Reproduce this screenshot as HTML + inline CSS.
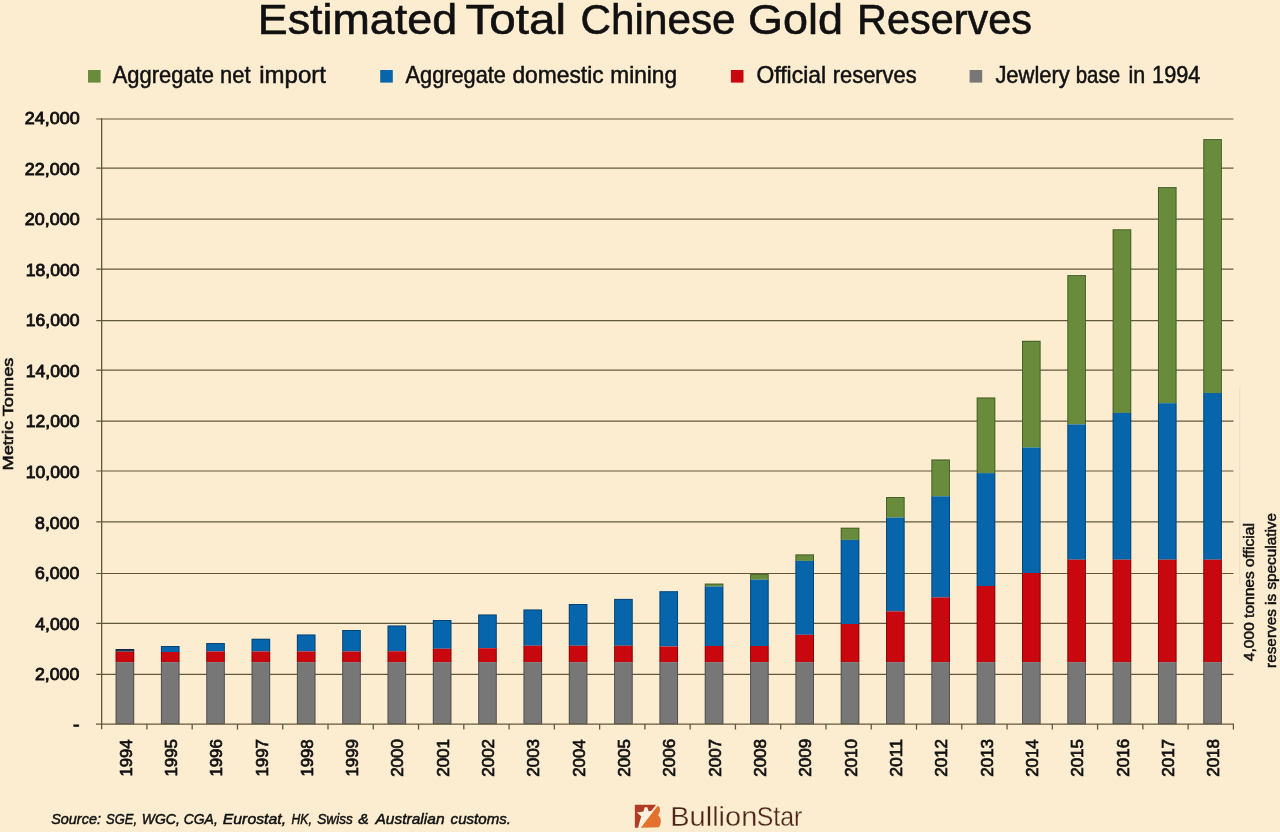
<!DOCTYPE html>
<html lang="en"><head><meta charset="utf-8"><title>Estimated Total Chinese Gold Reserves</title>
<style>
html,body{margin:0;padding:0;background:#FCEDD1;}
body{width:1280px;height:832px;overflow:hidden;font-family:"Liberation Sans",sans-serif;}
svg{display:block;}
text{font-family:"Liberation Sans",sans-serif;fill:#111;}
.t{stroke:#111;stroke-width:0.35px;}
</style></head><body>
<svg width="1280" height="832" viewBox="0 0 1280 832">
<rect x="0" y="0" width="1280" height="832" fill="#FCEDD1"/>
<text y="34.0" font-size="42.8" style="stroke:#111;stroke-width:0.6px"><tspan x="257.76" textLength="199.35" lengthAdjust="spacingAndGlyphs">Estimated</tspan> <tspan x="465.49" textLength="100.59" lengthAdjust="spacingAndGlyphs">Total</tspan> <tspan x="580.52" textLength="155.09" lengthAdjust="spacingAndGlyphs">Chinese</tspan> <tspan x="748.10" textLength="94.93" lengthAdjust="spacingAndGlyphs">Gold</tspan> <tspan x="857.10" textLength="174.91" lengthAdjust="spacingAndGlyphs">Reserves</tspan></text>
<rect x="88.0" y="70" width="12.6" height="12.6" fill="#698C3C"/>
<text y="83.0" font-size="23.4" style="stroke:#111;stroke-width:0.5px"><tspan x="112.75" textLength="101.14" lengthAdjust="spacingAndGlyphs">Aggregate</tspan> <tspan x="220.06" textLength="30.50" lengthAdjust="spacingAndGlyphs">net</tspan> <tspan x="259.27" textLength="66.73" lengthAdjust="spacingAndGlyphs">import</tspan></text>
<rect x="380.2" y="70" width="12.6" height="12.6" fill="#0765AB"/>
<text y="83.0" font-size="23.4" style="stroke:#111;stroke-width:0.5px"><tspan x="405.50" textLength="100.49" lengthAdjust="spacingAndGlyphs">Aggregate</tspan> <tspan x="512.42" textLength="91.27" lengthAdjust="spacingAndGlyphs">domestic</tspan> <tspan x="610.33" textLength="66.75" lengthAdjust="spacingAndGlyphs">mining</tspan></text>
<rect x="730.9" y="70" width="12.6" height="12.6" fill="#C9070F"/>
<text y="83.0" font-size="23.4" style="stroke:#111;stroke-width:0.5px"><tspan x="756.52" textLength="69.53" lengthAdjust="spacingAndGlyphs">Official</tspan> <tspan x="832.82" textLength="83.84" lengthAdjust="spacingAndGlyphs">reserves</tspan></text>
<rect x="969.6" y="70" width="12.6" height="12.6" fill="#777777"/>
<text y="83.0" font-size="23.4" style="stroke:#111;stroke-width:0.5px"><tspan x="995.40" textLength="74.38" lengthAdjust="spacingAndGlyphs">Jewlery</tspan> <tspan x="1075.73" textLength="44.31" lengthAdjust="spacingAndGlyphs">base</tspan> <tspan x="1128.38" textLength="16.74" lengthAdjust="spacingAndGlyphs">in</tspan> <tspan x="1152.07" textLength="48.27" lengthAdjust="spacingAndGlyphs">1994</tspan></text>
<line x1="96.3" y1="674.40" x2="1233.5" y2="674.40" stroke="#62583C" stroke-width="1.2"/>
<line x1="96.3" y1="623.30" x2="1233.5" y2="623.30" stroke="#62583C" stroke-width="1.2"/>
<line x1="96.3" y1="573.50" x2="1233.5" y2="573.50" stroke="#62583C" stroke-width="1.2"/>
<line x1="96.3" y1="521.90" x2="1233.5" y2="521.90" stroke="#62583C" stroke-width="1.2"/>
<line x1="96.3" y1="471.00" x2="1233.5" y2="471.00" stroke="#62583C" stroke-width="1.2"/>
<line x1="96.3" y1="421.20" x2="1233.5" y2="421.20" stroke="#62583C" stroke-width="1.2"/>
<line x1="96.3" y1="370.20" x2="1233.5" y2="370.20" stroke="#62583C" stroke-width="1.2"/>
<line x1="96.3" y1="320.60" x2="1233.5" y2="320.60" stroke="#62583C" stroke-width="1.2"/>
<line x1="96.3" y1="269.10" x2="1233.5" y2="269.10" stroke="#62583C" stroke-width="1.2"/>
<line x1="96.3" y1="219.20" x2="1233.5" y2="219.20" stroke="#62583C" stroke-width="1.2"/>
<line x1="96.3" y1="168.10" x2="1233.5" y2="168.10" stroke="#62583C" stroke-width="1.2"/>
<line x1="96.3" y1="119.00" x2="1233.5" y2="119.00" stroke="#62583C" stroke-width="1.2"/>
<text x="34.93" y="680.05" font-size="17" textLength="44.37" lengthAdjust="spacingAndGlyphs" style="stroke:#111;stroke-width:0.85px">2,000</text>
<text x="35.30" y="630.25" font-size="17" textLength="44.13" lengthAdjust="spacingAndGlyphs" style="stroke:#111;stroke-width:0.85px">4,000</text>
<text x="34.93" y="578.65" font-size="17" textLength="44.36" lengthAdjust="spacingAndGlyphs" style="stroke:#111;stroke-width:0.85px">6,000</text>
<text x="35.10" y="528.85" font-size="17" textLength="44.28" lengthAdjust="spacingAndGlyphs" style="stroke:#111;stroke-width:0.85px">8,000</text>
<text x="25.80" y="477.95" font-size="17" textLength="53.65" lengthAdjust="spacingAndGlyphs" style="stroke:#111;stroke-width:0.85px">10,000</text>
<text x="25.80" y="427.05" font-size="17" textLength="53.65" lengthAdjust="spacingAndGlyphs" style="stroke:#111;stroke-width:0.85px">12,000</text>
<text x="25.80" y="376.65" font-size="17" textLength="53.65" lengthAdjust="spacingAndGlyphs" style="stroke:#111;stroke-width:0.85px">14,000</text>
<text x="25.80" y="325.95" font-size="17" textLength="53.65" lengthAdjust="spacingAndGlyphs" style="stroke:#111;stroke-width:0.85px">16,000</text>
<text x="25.80" y="276.25" font-size="17" textLength="53.65" lengthAdjust="spacingAndGlyphs" style="stroke:#111;stroke-width:0.85px">18,000</text>
<text x="24.83" y="225.35" font-size="17" textLength="54.79" lengthAdjust="spacingAndGlyphs" style="stroke:#111;stroke-width:0.85px">20,000</text>
<text x="24.83" y="175.25" font-size="17" textLength="54.79" lengthAdjust="spacingAndGlyphs" style="stroke:#111;stroke-width:0.85px">22,000</text>
<text x="24.83" y="123.65" font-size="17" textLength="54.79" lengthAdjust="spacingAndGlyphs" style="stroke:#111;stroke-width:0.85px">24,000</text>
<text x="73.0" y="730.2" font-size="17" textLength="6.5" lengthAdjust="spacingAndGlyphs" style="stroke:#111;stroke-width:0.85px">-</text>
<text transform="translate(13.4,470.51) rotate(-90)" font-size="15.5" textLength="112.92" lengthAdjust="spacingAndGlyphs" style="stroke:#111;stroke-width:0.6px">Metric Tonnes</text>
<g>
<rect x="115.60" y="649.00" width="18.60" height="2.70" fill="#1B3A5E"/>
<rect x="115.60" y="651.70" width="18.60" height="10.40" fill="#C9070F"/>
<rect x="115.60" y="662.10" width="18.60" height="61.90" fill="#777777"/>
<rect x="116.10" y="649.50" width="17.60" height="74.50" fill="none" stroke="#000000" stroke-opacity="0.32" stroke-width="1"/>
</g>
<g>
<rect x="160.92" y="646.00" width="18.60" height="6.00" fill="#0765AB"/>
<rect x="160.92" y="652.00" width="18.60" height="10.10" fill="#C9070F"/>
<rect x="160.92" y="662.10" width="18.60" height="61.90" fill="#777777"/>
<rect x="161.42" y="646.50" width="17.60" height="77.50" fill="none" stroke="#000000" stroke-opacity="0.32" stroke-width="1"/>
</g>
<g>
<rect x="206.24" y="643.00" width="18.60" height="8.50" fill="#0765AB"/>
<rect x="206.24" y="651.50" width="18.60" height="10.60" fill="#C9070F"/>
<rect x="206.24" y="662.10" width="18.60" height="61.90" fill="#777777"/>
<rect x="206.74" y="643.50" width="17.60" height="80.50" fill="none" stroke="#000000" stroke-opacity="0.32" stroke-width="1"/>
</g>
<g>
<rect x="251.56" y="638.75" width="18.60" height="12.75" fill="#0765AB"/>
<rect x="251.56" y="651.50" width="18.60" height="10.60" fill="#C9070F"/>
<rect x="251.56" y="662.10" width="18.60" height="61.90" fill="#777777"/>
<rect x="252.06" y="639.25" width="17.60" height="84.75" fill="none" stroke="#000000" stroke-opacity="0.32" stroke-width="1"/>
</g>
<g>
<rect x="296.88" y="634.50" width="18.60" height="17.00" fill="#0765AB"/>
<rect x="296.88" y="651.50" width="18.60" height="10.60" fill="#C9070F"/>
<rect x="296.88" y="662.10" width="18.60" height="61.90" fill="#777777"/>
<rect x="297.38" y="635.00" width="17.60" height="89.00" fill="none" stroke="#000000" stroke-opacity="0.32" stroke-width="1"/>
</g>
<g>
<rect x="342.20" y="630.00" width="18.60" height="21.50" fill="#0765AB"/>
<rect x="342.20" y="651.50" width="18.60" height="10.60" fill="#C9070F"/>
<rect x="342.20" y="662.10" width="18.60" height="61.90" fill="#777777"/>
<rect x="342.70" y="630.50" width="17.60" height="93.50" fill="none" stroke="#000000" stroke-opacity="0.32" stroke-width="1"/>
</g>
<g>
<rect x="387.52" y="625.50" width="18.60" height="25.75" fill="#0765AB"/>
<rect x="387.52" y="651.25" width="18.60" height="10.85" fill="#C9070F"/>
<rect x="387.52" y="662.10" width="18.60" height="61.90" fill="#777777"/>
<rect x="388.02" y="626.00" width="17.60" height="98.00" fill="none" stroke="#000000" stroke-opacity="0.32" stroke-width="1"/>
</g>
<g>
<rect x="432.84" y="620.00" width="18.60" height="28.75" fill="#0765AB"/>
<rect x="432.84" y="648.75" width="18.60" height="13.35" fill="#C9070F"/>
<rect x="432.84" y="662.10" width="18.60" height="61.90" fill="#777777"/>
<rect x="433.34" y="620.50" width="17.60" height="103.50" fill="none" stroke="#000000" stroke-opacity="0.32" stroke-width="1"/>
</g>
<g>
<rect x="478.16" y="614.50" width="18.60" height="33.75" fill="#0765AB"/>
<rect x="478.16" y="648.25" width="18.60" height="13.85" fill="#C9070F"/>
<rect x="478.16" y="662.10" width="18.60" height="61.90" fill="#777777"/>
<rect x="478.66" y="615.00" width="17.60" height="109.00" fill="none" stroke="#000000" stroke-opacity="0.32" stroke-width="1"/>
</g>
<g>
<rect x="523.48" y="609.50" width="18.60" height="36.25" fill="#0765AB"/>
<rect x="523.48" y="645.75" width="18.60" height="16.35" fill="#C9070F"/>
<rect x="523.48" y="662.10" width="18.60" height="61.90" fill="#777777"/>
<rect x="523.98" y="610.00" width="17.60" height="114.00" fill="none" stroke="#000000" stroke-opacity="0.32" stroke-width="1"/>
</g>
<g>
<rect x="568.80" y="604.00" width="18.60" height="41.75" fill="#0765AB"/>
<rect x="568.80" y="645.75" width="18.60" height="16.35" fill="#C9070F"/>
<rect x="568.80" y="662.10" width="18.60" height="61.90" fill="#777777"/>
<rect x="569.30" y="604.50" width="17.60" height="119.50" fill="none" stroke="#000000" stroke-opacity="0.32" stroke-width="1"/>
</g>
<g>
<rect x="614.12" y="598.90" width="18.60" height="46.85" fill="#0765AB"/>
<rect x="614.12" y="645.75" width="18.60" height="16.35" fill="#C9070F"/>
<rect x="614.12" y="662.10" width="18.60" height="61.90" fill="#777777"/>
<rect x="614.62" y="599.40" width="17.60" height="124.60" fill="none" stroke="#000000" stroke-opacity="0.32" stroke-width="1"/>
</g>
<g>
<rect x="659.44" y="591.20" width="18.60" height="55.30" fill="#0765AB"/>
<rect x="659.44" y="646.50" width="18.60" height="15.60" fill="#C9070F"/>
<rect x="659.44" y="662.10" width="18.60" height="61.90" fill="#777777"/>
<rect x="659.94" y="591.70" width="17.60" height="132.30" fill="none" stroke="#000000" stroke-opacity="0.32" stroke-width="1"/>
</g>
<g>
<rect x="704.76" y="583.60" width="18.60" height="2.90" fill="#698C3C"/>
<rect x="704.76" y="586.50" width="18.60" height="59.50" fill="#0765AB"/>
<rect x="704.76" y="646.00" width="18.60" height="16.10" fill="#C9070F"/>
<rect x="704.76" y="662.10" width="18.60" height="61.90" fill="#777777"/>
<rect x="705.26" y="584.10" width="17.60" height="139.90" fill="none" stroke="#000000" stroke-opacity="0.32" stroke-width="1"/>
</g>
<g>
<rect x="750.08" y="573.80" width="18.60" height="5.80" fill="#698C3C"/>
<rect x="750.08" y="579.60" width="18.60" height="66.40" fill="#0765AB"/>
<rect x="750.08" y="646.00" width="18.60" height="16.10" fill="#C9070F"/>
<rect x="750.08" y="662.10" width="18.60" height="61.90" fill="#777777"/>
<rect x="750.58" y="574.30" width="17.60" height="149.70" fill="none" stroke="#000000" stroke-opacity="0.32" stroke-width="1"/>
</g>
<g>
<rect x="795.40" y="554.40" width="18.60" height="6.50" fill="#698C3C"/>
<rect x="795.40" y="560.90" width="18.60" height="73.90" fill="#0765AB"/>
<rect x="795.40" y="634.80" width="18.60" height="27.30" fill="#C9070F"/>
<rect x="795.40" y="662.10" width="18.60" height="61.90" fill="#777777"/>
<rect x="795.90" y="554.90" width="17.60" height="169.10" fill="none" stroke="#000000" stroke-opacity="0.32" stroke-width="1"/>
</g>
<g>
<rect x="840.72" y="527.70" width="18.60" height="12.20" fill="#698C3C"/>
<rect x="840.72" y="539.90" width="18.60" height="84.10" fill="#0765AB"/>
<rect x="840.72" y="624.00" width="18.60" height="38.10" fill="#C9070F"/>
<rect x="840.72" y="662.10" width="18.60" height="61.90" fill="#777777"/>
<rect x="841.22" y="528.20" width="17.60" height="195.80" fill="none" stroke="#000000" stroke-opacity="0.32" stroke-width="1"/>
</g>
<g>
<rect x="886.04" y="497.00" width="18.60" height="20.60" fill="#698C3C"/>
<rect x="886.04" y="517.60" width="18.60" height="93.80" fill="#0765AB"/>
<rect x="886.04" y="611.40" width="18.60" height="50.70" fill="#C9070F"/>
<rect x="886.04" y="662.10" width="18.60" height="61.90" fill="#777777"/>
<rect x="886.54" y="497.50" width="17.60" height="226.50" fill="none" stroke="#000000" stroke-opacity="0.32" stroke-width="1"/>
</g>
<g>
<rect x="931.36" y="459.50" width="18.60" height="36.80" fill="#698C3C"/>
<rect x="931.36" y="496.30" width="18.60" height="101.10" fill="#0765AB"/>
<rect x="931.36" y="597.40" width="18.60" height="64.70" fill="#C9070F"/>
<rect x="931.36" y="662.10" width="18.60" height="61.90" fill="#777777"/>
<rect x="931.86" y="460.00" width="17.60" height="264.00" fill="none" stroke="#000000" stroke-opacity="0.32" stroke-width="1"/>
</g>
<g>
<rect x="976.68" y="397.50" width="18.60" height="75.60" fill="#698C3C"/>
<rect x="976.68" y="473.10" width="18.60" height="112.90" fill="#0765AB"/>
<rect x="976.68" y="586.00" width="18.60" height="76.10" fill="#C9070F"/>
<rect x="976.68" y="662.10" width="18.60" height="61.90" fill="#777777"/>
<rect x="977.18" y="398.00" width="17.60" height="326.00" fill="none" stroke="#000000" stroke-opacity="0.32" stroke-width="1"/>
</g>
<g>
<rect x="1022.00" y="340.80" width="18.60" height="106.70" fill="#698C3C"/>
<rect x="1022.00" y="447.50" width="18.60" height="125.50" fill="#0765AB"/>
<rect x="1022.00" y="573.00" width="18.60" height="89.10" fill="#C9070F"/>
<rect x="1022.00" y="662.10" width="18.60" height="61.90" fill="#777777"/>
<rect x="1022.50" y="341.30" width="17.60" height="382.70" fill="none" stroke="#000000" stroke-opacity="0.32" stroke-width="1"/>
</g>
<g>
<rect x="1067.32" y="275.10" width="18.60" height="149.30" fill="#698C3C"/>
<rect x="1067.32" y="424.40" width="18.60" height="135.30" fill="#0765AB"/>
<rect x="1067.32" y="559.70" width="18.60" height="102.40" fill="#C9070F"/>
<rect x="1067.32" y="662.10" width="18.60" height="61.90" fill="#777777"/>
<rect x="1067.82" y="275.60" width="17.60" height="448.40" fill="none" stroke="#000000" stroke-opacity="0.32" stroke-width="1"/>
</g>
<g>
<rect x="1112.64" y="229.30" width="18.60" height="183.70" fill="#698C3C"/>
<rect x="1112.64" y="413.00" width="18.60" height="146.70" fill="#0765AB"/>
<rect x="1112.64" y="559.70" width="18.60" height="102.40" fill="#C9070F"/>
<rect x="1112.64" y="662.10" width="18.60" height="61.90" fill="#777777"/>
<rect x="1113.14" y="229.80" width="17.60" height="494.20" fill="none" stroke="#000000" stroke-opacity="0.32" stroke-width="1"/>
</g>
<g>
<rect x="1157.96" y="187.10" width="18.60" height="216.10" fill="#698C3C"/>
<rect x="1157.96" y="403.20" width="18.60" height="156.50" fill="#0765AB"/>
<rect x="1157.96" y="559.70" width="18.60" height="102.40" fill="#C9070F"/>
<rect x="1157.96" y="662.10" width="18.60" height="61.90" fill="#777777"/>
<rect x="1158.46" y="187.60" width="17.60" height="536.40" fill="none" stroke="#000000" stroke-opacity="0.32" stroke-width="1"/>
</g>
<g>
<rect x="1203.28" y="139.10" width="18.60" height="253.90" fill="#698C3C"/>
<rect x="1203.28" y="393.00" width="18.60" height="166.70" fill="#0765AB"/>
<rect x="1203.28" y="559.70" width="18.60" height="102.40" fill="#C9070F"/>
<rect x="1203.28" y="662.10" width="18.60" height="61.90" fill="#777777"/>
<rect x="1203.78" y="139.60" width="17.60" height="584.40" fill="none" stroke="#000000" stroke-opacity="0.32" stroke-width="1"/>
</g>
<line x1="101.65" y1="118.3" x2="101.65" y2="729.3" stroke="#62583C" stroke-width="1.3"/>
<line x1="96" y1="724.10" x2="1233.8" y2="724.10" stroke="#62583C" stroke-width="1.45"/>
<line x1="146.92" y1="724.00" x2="146.92" y2="729.6" stroke="#62583C" stroke-width="1.3"/>
<line x1="192.19" y1="724.00" x2="192.19" y2="729.6" stroke="#62583C" stroke-width="1.3"/>
<line x1="237.46" y1="724.00" x2="237.46" y2="729.6" stroke="#62583C" stroke-width="1.3"/>
<line x1="282.73" y1="724.00" x2="282.73" y2="729.6" stroke="#62583C" stroke-width="1.3"/>
<line x1="328.00" y1="724.00" x2="328.00" y2="729.6" stroke="#62583C" stroke-width="1.3"/>
<line x1="373.27" y1="724.00" x2="373.27" y2="729.6" stroke="#62583C" stroke-width="1.3"/>
<line x1="418.54" y1="724.00" x2="418.54" y2="729.6" stroke="#62583C" stroke-width="1.3"/>
<line x1="463.81" y1="724.00" x2="463.81" y2="729.6" stroke="#62583C" stroke-width="1.3"/>
<line x1="509.08" y1="724.00" x2="509.08" y2="729.6" stroke="#62583C" stroke-width="1.3"/>
<line x1="554.35" y1="724.00" x2="554.35" y2="729.6" stroke="#62583C" stroke-width="1.3"/>
<line x1="599.62" y1="724.00" x2="599.62" y2="729.6" stroke="#62583C" stroke-width="1.3"/>
<line x1="644.89" y1="724.00" x2="644.89" y2="729.6" stroke="#62583C" stroke-width="1.3"/>
<line x1="690.16" y1="724.00" x2="690.16" y2="729.6" stroke="#62583C" stroke-width="1.3"/>
<line x1="735.43" y1="724.00" x2="735.43" y2="729.6" stroke="#62583C" stroke-width="1.3"/>
<line x1="780.70" y1="724.00" x2="780.70" y2="729.6" stroke="#62583C" stroke-width="1.3"/>
<line x1="825.97" y1="724.00" x2="825.97" y2="729.6" stroke="#62583C" stroke-width="1.3"/>
<line x1="871.24" y1="724.00" x2="871.24" y2="729.6" stroke="#62583C" stroke-width="1.3"/>
<line x1="916.51" y1="724.00" x2="916.51" y2="729.6" stroke="#62583C" stroke-width="1.3"/>
<line x1="961.78" y1="724.00" x2="961.78" y2="729.6" stroke="#62583C" stroke-width="1.3"/>
<line x1="1007.05" y1="724.00" x2="1007.05" y2="729.6" stroke="#62583C" stroke-width="1.3"/>
<line x1="1052.32" y1="724.00" x2="1052.32" y2="729.6" stroke="#62583C" stroke-width="1.3"/>
<line x1="1097.59" y1="724.00" x2="1097.59" y2="729.6" stroke="#62583C" stroke-width="1.3"/>
<line x1="1142.86" y1="724.00" x2="1142.86" y2="729.6" stroke="#62583C" stroke-width="1.3"/>
<line x1="1188.13" y1="724.00" x2="1188.13" y2="729.6" stroke="#62583C" stroke-width="1.3"/>
<line x1="1233.40" y1="724.00" x2="1233.40" y2="729.6" stroke="#62583C" stroke-width="1.3"/>
<text transform="translate(131.55,776.60) rotate(-90)" font-size="16.5" textLength="37.09" lengthAdjust="spacingAndGlyphs" style="stroke:#111;stroke-width:0.7px">1994</text>
<text transform="translate(176.87,776.60) rotate(-90)" font-size="16.5" textLength="37.51" lengthAdjust="spacingAndGlyphs" style="stroke:#111;stroke-width:0.7px">1995</text>
<text transform="translate(222.19,776.60) rotate(-90)" font-size="16.5" textLength="37.35" lengthAdjust="spacingAndGlyphs" style="stroke:#111;stroke-width:0.7px">1996</text>
<text transform="translate(267.51,776.60) rotate(-90)" font-size="16.5" textLength="37.54" lengthAdjust="spacingAndGlyphs" style="stroke:#111;stroke-width:0.7px">1997</text>
<text transform="translate(312.83,776.60) rotate(-90)" font-size="16.5" textLength="37.30" lengthAdjust="spacingAndGlyphs" style="stroke:#111;stroke-width:0.7px">1998</text>
<text transform="translate(358.15,776.60) rotate(-90)" font-size="16.5" textLength="37.57" lengthAdjust="spacingAndGlyphs" style="stroke:#111;stroke-width:0.7px">1999</text>
<text transform="translate(403.47,776.82) rotate(-90)" font-size="16.5" textLength="37.79" lengthAdjust="spacingAndGlyphs" style="stroke:#111;stroke-width:0.7px">2000</text>
<text transform="translate(448.79,776.82) rotate(-90)" font-size="16.5" textLength="37.90" lengthAdjust="spacingAndGlyphs" style="stroke:#111;stroke-width:0.7px">2001</text>
<text transform="translate(494.11,776.82) rotate(-90)" font-size="16.5" textLength="37.93" lengthAdjust="spacingAndGlyphs" style="stroke:#111;stroke-width:0.7px">2002</text>
<text transform="translate(539.43,776.82) rotate(-90)" font-size="16.5" textLength="37.91" lengthAdjust="spacingAndGlyphs" style="stroke:#111;stroke-width:0.7px">2003</text>
<text transform="translate(584.75,776.82) rotate(-90)" font-size="16.5" textLength="37.46" lengthAdjust="spacingAndGlyphs" style="stroke:#111;stroke-width:0.7px">2004</text>
<text transform="translate(630.07,776.82) rotate(-90)" font-size="16.5" textLength="37.89" lengthAdjust="spacingAndGlyphs" style="stroke:#111;stroke-width:0.7px">2005</text>
<text transform="translate(675.39,776.82) rotate(-90)" font-size="16.5" textLength="37.95" lengthAdjust="spacingAndGlyphs" style="stroke:#111;stroke-width:0.7px">2006</text>
<text transform="translate(720.71,776.82) rotate(-90)" font-size="16.5" textLength="37.93" lengthAdjust="spacingAndGlyphs" style="stroke:#111;stroke-width:0.7px">2007</text>
<text transform="translate(766.03,776.82) rotate(-90)" font-size="16.5" textLength="37.90" lengthAdjust="spacingAndGlyphs" style="stroke:#111;stroke-width:0.7px">2008</text>
<text transform="translate(811.35,776.82) rotate(-90)" font-size="16.5" textLength="37.99" lengthAdjust="spacingAndGlyphs" style="stroke:#111;stroke-width:0.7px">2009</text>
<text transform="translate(856.67,776.82) rotate(-90)" font-size="16.5" textLength="37.79" lengthAdjust="spacingAndGlyphs" style="stroke:#111;stroke-width:0.7px">2010</text>
<text transform="translate(901.99,776.82) rotate(-90)" font-size="16.5" textLength="37.91" lengthAdjust="spacingAndGlyphs" style="stroke:#111;stroke-width:0.7px">2011</text>
<text transform="translate(947.31,776.82) rotate(-90)" font-size="16.5" textLength="37.93" lengthAdjust="spacingAndGlyphs" style="stroke:#111;stroke-width:0.7px">2012</text>
<text transform="translate(992.63,776.82) rotate(-90)" font-size="16.5" textLength="37.91" lengthAdjust="spacingAndGlyphs" style="stroke:#111;stroke-width:0.7px">2013</text>
<text transform="translate(1037.95,776.82) rotate(-90)" font-size="16.5" textLength="37.46" lengthAdjust="spacingAndGlyphs" style="stroke:#111;stroke-width:0.7px">2014</text>
<text transform="translate(1083.27,776.82) rotate(-90)" font-size="16.5" textLength="37.89" lengthAdjust="spacingAndGlyphs" style="stroke:#111;stroke-width:0.7px">2015</text>
<text transform="translate(1128.59,776.82) rotate(-90)" font-size="16.5" textLength="37.95" lengthAdjust="spacingAndGlyphs" style="stroke:#111;stroke-width:0.7px">2016</text>
<text transform="translate(1173.91,776.82) rotate(-90)" font-size="16.5" textLength="37.93" lengthAdjust="spacingAndGlyphs" style="stroke:#111;stroke-width:0.7px">2017</text>
<text transform="translate(1219.23,776.82) rotate(-90)" font-size="16.5" textLength="37.90" lengthAdjust="spacingAndGlyphs" style="stroke:#111;stroke-width:0.7px">2018</text>
<line x1="1239.8" y1="387" x2="1239.8" y2="585" stroke="#E9D2B4" stroke-width="1" stroke-opacity="0.7"/>
<text transform="translate(1253.6,661.13) rotate(-90)" font-size="13.9" textLength="138.05" lengthAdjust="spacingAndGlyphs" style="stroke:#111;stroke-width:0.5px">4,000 tonnes official</text>
<text transform="translate(1276.2,667.90) rotate(-90)" font-size="14.3" textLength="154.92" lengthAdjust="spacingAndGlyphs" style="stroke:#111;stroke-width:0.5px">reserves is speculative</text>
<text y="823.9" font-size="15.4" font-style="italic" style="stroke:#111;stroke-width:0.5px"><tspan x="51.20" textLength="49.74" lengthAdjust="spacingAndGlyphs">Source:</tspan> <tspan x="106.00" textLength="31.00" lengthAdjust="spacingAndGlyphs">SGE,</tspan> <tspan x="141.69" textLength="38.13" lengthAdjust="spacingAndGlyphs">WGC,</tspan> <tspan x="183.69" textLength="34.09" lengthAdjust="spacingAndGlyphs">CGA,</tspan> <tspan x="222.80" textLength="63.24" lengthAdjust="spacingAndGlyphs">Eurostat,</tspan> <tspan x="291.50" textLength="20.31" lengthAdjust="spacingAndGlyphs">HK,</tspan> <tspan x="317.20" textLength="35.68" lengthAdjust="spacingAndGlyphs">Swiss</tspan> <tspan x="358.20" textLength="10.47" lengthAdjust="spacingAndGlyphs">&amp;</tspan> <tspan x="375.51" textLength="69.05" lengthAdjust="spacingAndGlyphs">Australian</tspan> <tspan x="450.60" textLength="60.45" lengthAdjust="spacingAndGlyphs">customs.</tspan></text>
<g transform="translate(626,796) scale(0.04325)">
<path d="M205 205 L700 205 L290 735 L205 735 Z" fill="#B23B25"/>
<path d="M722 232 C790 232 815 330 745 450 C830 500 815 640 765 722 L335 735 Z" fill="#E2712F"/>
<path d="M692 210 L724 236 L338 735 L300 735 Z" fill="#FBE3C8"/>
<path d="M432 262 L492 262 L522 352 L632 338 L338 735 L278 735 L352 468 L252 384 L404 360 Z" fill="#FDF0DC"/>
</g>
<text y="826" font-size="28" style="fill:#4E271B;stroke:#FCEDD1;stroke-width:0.3px"><tspan x="670.23" textLength="87.11" lengthAdjust="spacingAndGlyphs">Bullion</tspan><tspan x="756.71" textLength="45.61" lengthAdjust="spacingAndGlyphs">Star</tspan></text>
</svg>
</body></html>
